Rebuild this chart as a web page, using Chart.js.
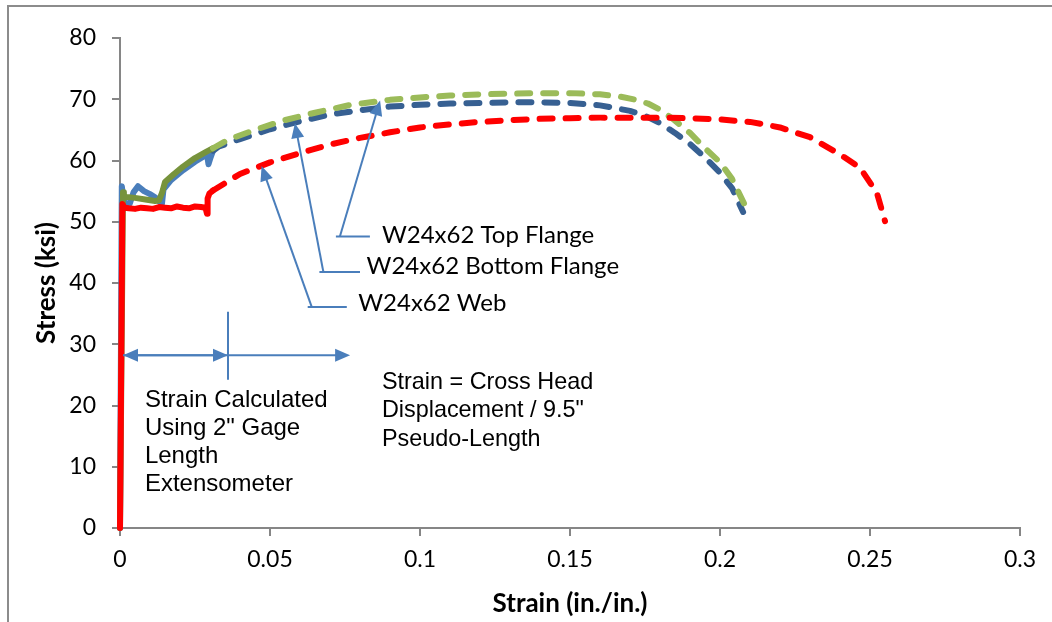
<!DOCTYPE html>
<html>
<head>
<meta charset="utf-8">
<script src="https://cdn.jsdelivr.net/npm/chart.js@4.4.1/dist/chart.umd.min.js"></script>
<style>
    html, body { margin: 0; padding: 0; background: #fff; }
    #wrap { width: 1052px; height: 622px; }
</style>
</head>
<body>
<div id="wrap"><canvas id="chart" width="1052" height="622"></canvas></div>
<script>
(function () {
    'use strict';

    // Series (strain in in./in., stress in ksi)
    const seriesNames = ['W24x62 Web', 'W24x62 Bottom Flange', 'W24x62 Top Flange'];

    const webStrain = [0, 0.0008, 0.0015, 0.003, 0.005, 0.007, 0.009, 0.011, 0.013, 0.015, 0.017, 0.019,
        0.021, 0.023, 0.025, 0.027, 0.0285, 0.029, 0.0292, 0.0298, 0.031, 0.04, 0.05, 0.06, 0.07, 0.08,
        0.09, 0.1, 0.11, 0.12, 0.13, 0.14, 0.15, 0.16, 0.17, 0.18, 0.19, 0.2, 0.21, 0.22, 0.23, 0.24,
        0.2467, 0.2523, 0.255];
    const webStress = [0, 52.9, 52.3, 52.2, 52.1, 52.3, 52.2, 52.1, 52.4, 52.3, 52.2, 52.5,
        52.3, 52.2, 52.5, 52.4, 52.3, 51.3, 53.8, 54.6, 55.1, 57.8, 59.7, 61.2, 62.6, 63.7,
        64.6, 65.4, 65.9, 66.3, 66.6, 66.8, 66.9, 67.0, 67.0, 67.0, 66.9, 66.7, 66.3, 65.4, 63.8, 61.0,
        58.8, 54.7, 50.1];

    const bottomStrain = [0, 0.0006, 0.0012, 0.002, 0.0033, 0.0045, 0.006, 0.008, 0.010, 0.0117, 0.013,
        0.014, 0.0145, 0.017, 0.021, 0.025, 0.029, 0.0295, 0.0302, 0.031, 0.033, 0.04, 0.05, 0.06, 0.07,
        0.08, 0.09, 0.1, 0.11, 0.12, 0.13, 0.14, 0.15, 0.16, 0.17, 0.175, 0.18, 0.185, 0.19, 0.195, 0.2,
        0.204, 0.2077];
    const bottomStress = [0, 55.8, 53.6, 52.9, 53.0, 54.8, 55.8, 55.0, 54.5, 54.0, 53.3,
        53.0, 55.3, 56.8, 58.4, 59.8, 61.0, 59.4, 60.5, 61.6, 62.3, 63.5, 65.1, 66.4, 67.5,
        68.2, 68.8, 69.1, 69.3, 69.4, 69.5, 69.5, 69.4, 69.0, 68.1, 67.3, 66.1, 64.5, 62.7, 60.5, 58.0,
        55.5, 51.6];

    const topStrain = [0, 0.001, 0.0013, 0.005, 0.009, 0.0117, 0.013, 0.014, 0.015, 0.018, 0.021, 0.025,
        0.029, 0.031, 0.036, 0.045, 0.055, 0.065, 0.077, 0.09, 0.1, 0.11, 0.12, 0.13, 0.14, 0.15, 0.16,
        0.167, 0.172, 0.176, 0.18, 0.184, 0.19, 0.195, 0.2, 0.204, 0.2085];
    const topStress = [0, 54.8, 54.1, 53.9, 53.6, 53.4, 53.5, 54.7, 56.5, 57.8, 59.0, 60.4,
        61.5, 62.0, 63.4, 65.0, 66.6, 67.8, 69.1, 69.9, 70.3, 70.6, 70.8, 70.9, 71.0, 71.0, 70.8,
        70.4, 69.9, 69.3, 68.3, 66.9, 64.5, 62.0, 59.7, 57.0, 52.5];

    // end of the extensometer-based part of each curve (solid), dashed after
    const gageEnd = [0.031, 0.031, 0.031];

    const xTickValues = [0, 0.05, 0.1, 0.15, 0.2, 0.25, 0.3];
    const yTickValues = [0, 10, 20, 30, 40, 50, 60, 70, 80];

    const AXIS_GREY = '#868686';
    const NOTE_BLUE = '#4a7ebb';

    function toPoints(xs, ys) {
        return xs.map(function (x, i) { return { x: x, y: ys[i] }; });
    }

    function curve(label, xs, ys, split, solidColor, dashColor) {
        return {
            label: label,
            data: toPoints(xs, ys),
            showLine: true,
            pointRadius: 0,
            borderWidth: 6,
            borderColor: dashColor,
            borderCapStyle: 'round',
            borderJoinStyle: 'round',
            clip: 8,
            segment: {
                borderColor: function (ctx) { return ctx.p0.parsed.x >= split ? dashColor : solidColor; },
                borderDash: function (ctx) { return ctx.p0.parsed.x >= split ? [13, 13] : []; }
            }
        };
    }

    const framePlugin = {
        id: 'frame',
        beforeDraw: function (chart) {
            const ctx = chart.ctx;
            ctx.save();
            ctx.fillStyle = '#fff';
            ctx.fillRect(0, 0, chart.width, chart.height);
            ctx.strokeStyle = '#8c8c8c';
            ctx.lineWidth = 2;
            ctx.beginPath();
            ctx.moveTo(8, chart.height);
            ctx.lineTo(8, 6);
            ctx.lineTo(chart.width, 6);
            ctx.stroke();
            ctx.restore();
        }
    };

    function arrowHead(ctx, x0, y0, x1, y1) {
        const a = Math.atan2(y1 - y0, x1 - x0);
        const len = 15, half = 6.5;
        ctx.beginPath();
        ctx.moveTo(x1, y1);
        ctx.lineTo(x1 - len * Math.cos(a) + half * Math.sin(a), y1 - len * Math.sin(a) - half * Math.cos(a));
        ctx.lineTo(x1 - len * Math.cos(a) - half * Math.sin(a), y1 - len * Math.sin(a) + half * Math.cos(a));
        ctx.closePath();
        ctx.fill();
    }

    function arrow(ctx, x0, y0, x1, y1) {
        const a = Math.atan2(y1 - y0, x1 - x0);
        ctx.beginPath();
        ctx.moveTo(x0, y0);
        ctx.lineTo(x1 - 12 * Math.cos(a), y1 - 12 * Math.sin(a));
        ctx.stroke();
        arrowHead(ctx, x0, y0, x1, y1);
    }

    // callouts in data units: arrow tip on the curve, foot, leader end, label anchor
    const callouts = [
        { text: seriesNames[2], tip: [0.0867, 69.8], foot: [0.0733, 47.6], leader: 0.0833, label: [0.0873, 47.8] },
        { text: seriesNames[1], tip: [0.0583, 66.1], foot: [0.0678, 41.8], leader: 0.0800, label: [0.0822, 42.7] },
        { text: seriesNames[0], tip: [0.0472, 59.1], foot: [0.0639, 36.1], leader: 0.0756, label: [0.0794, 36.7] }
    ];

    const notesPlugin = {
        id: 'notes',
        afterDatasetsDraw: function (chart) {
            const ctx = chart.ctx;
            const xs = chart.scales.x, ys = chart.scales.y;
            const px = function (v) { return xs.getPixelForValue(v); };
            const py = function (v) { return ys.getPixelForValue(v); };

            ctx.save();
            ctx.strokeStyle = NOTE_BLUE;
            ctx.fillStyle = NOTE_BLUE;
            ctx.lineWidth = 2;

            callouts.forEach(function (c) {
                ctx.beginPath();
                ctx.moveTo(px(c.foot[0]) - 4, py(c.foot[1]));
                ctx.lineTo(px(c.leader), py(c.foot[1]));
                ctx.stroke();
                arrow(ctx, px(c.foot[0]), py(c.foot[1]), px(c.tip[0]), py(c.tip[1]));
            });

            // extensometer / cross head ranges
            const yRange = py(28.2);
            const xSplit = px(0.036);
            arrow(ctx, xSplit, yRange, px(0.001), yRange);
            arrow(ctx, px(0.001), yRange, xSplit, yRange);
            arrow(ctx, xSplit, yRange, px(0.0767), yRange);
            ctx.beginPath();
            ctx.moveTo(xSplit, py(35.3));
            ctx.lineTo(xSplit, py(24.2));
            ctx.stroke();

            ctx.fillStyle = '#000';
            ctx.font = '24px Lato';
            ctx.textBaseline = 'middle';
            ctx.textAlign = 'left';
            callouts.forEach(function (c) {
                ctx.fillText(c.text, px(c.label[0]), py(c.label[1]));
            });

            ctx.textBaseline = 'alphabetic';
            ctx.font = '24px "Liberation Sans"';
            const left = ['Strain Calculated', 'Using 2" Gage', 'Length', 'Extensometer'];
            left.forEach(function (t, i) { ctx.fillText(t, px(0.0083), py(19.76) + i * 28); });
            ctx.font = '23.4px "Liberation Sans"';
            const right = ['Strain = Cross Head', 'Displacement / 9.5"', 'Pseudo-Length'];
            right.forEach(function (t, i) { ctx.fillText(t, px(0.0873), py(22.7) + i * 28.5); });
            ctx.restore();
        }
    };

    function axisStyle() {
        return {
            border: { display: true, color: AXIS_GREY, width: 2 },
            grid: { drawOnChartArea: false, drawTicks: true, tickLength: 8, color: AXIS_GREY, lineWidth: 2 }
        };
    }

    const xAxis = Object.assign(axisStyle(), {
        type: 'linear',
        min: 0,
        max: 0.3,
        afterBuildTicks: function (s) { s.ticks = xTickValues.map(function (v) { return { value: v }; }); },
        afterFit: function (s) { s.height = 94; },
        ticks: {
            color: '#000',
            font: { family: 'Lato', size: 23 },
            padding: 10,
            maxRotation: 0,
            callback: function (v) { return String(Number(Number(v).toFixed(2))); }
        },
        title: {
            display: true,
            text: 'Strain (in./in.)',
            color: '#000',
            font: { family: 'Lato', size: 26, weight: 'bold' },
            padding: { top: 0, bottom: 2.4 }
        }
    });

    const yAxis = Object.assign(axisStyle(), {
        type: 'linear',
        min: 0,
        max: 80,
        afterBuildTicks: function (s) { s.ticks = yTickValues.map(function (v) { return { value: v }; }); },
        afterFit: function (s) { s.width = 120; },
        ticks: {
            color: '#000',
            font: { family: 'Lato', size: 23 },
            padding: 16
        },
        title: {
            display: true,
            text: 'Stress (ksi)',
            color: '#000',
            font: { family: 'Lato', size: 26, weight: 'bold' },
            padding: { top: 31, bottom: 0 }
        }
    });

    new Chart(document.getElementById('chart'), {
        type: 'scatter',
        data: {
            datasets: [
                curve(seriesNames[0], webStrain, webStress, gageEnd[0], '#ff0000', '#ff0000'),
                curve(seriesNames[2], topStrain, topStress, gageEnd[2], '#77933c', '#9bbb59'),
                curve(seriesNames[1], bottomStrain, bottomStress, gageEnd[1], '#4a7ebb', '#376092')
            ]
        },
        options: {
            responsive: false,
            animation: false,
            layout: { padding: { top: 38, right: 32, left: 0, bottom: 0 } },
            plugins: { legend: { display: false }, tooltip: { enabled: false } },
            scales: { x: xAxis, y: yAxis }
        },
        plugins: [framePlugin, notesPlugin]
    });
})();
</script>
</body>
</html>
